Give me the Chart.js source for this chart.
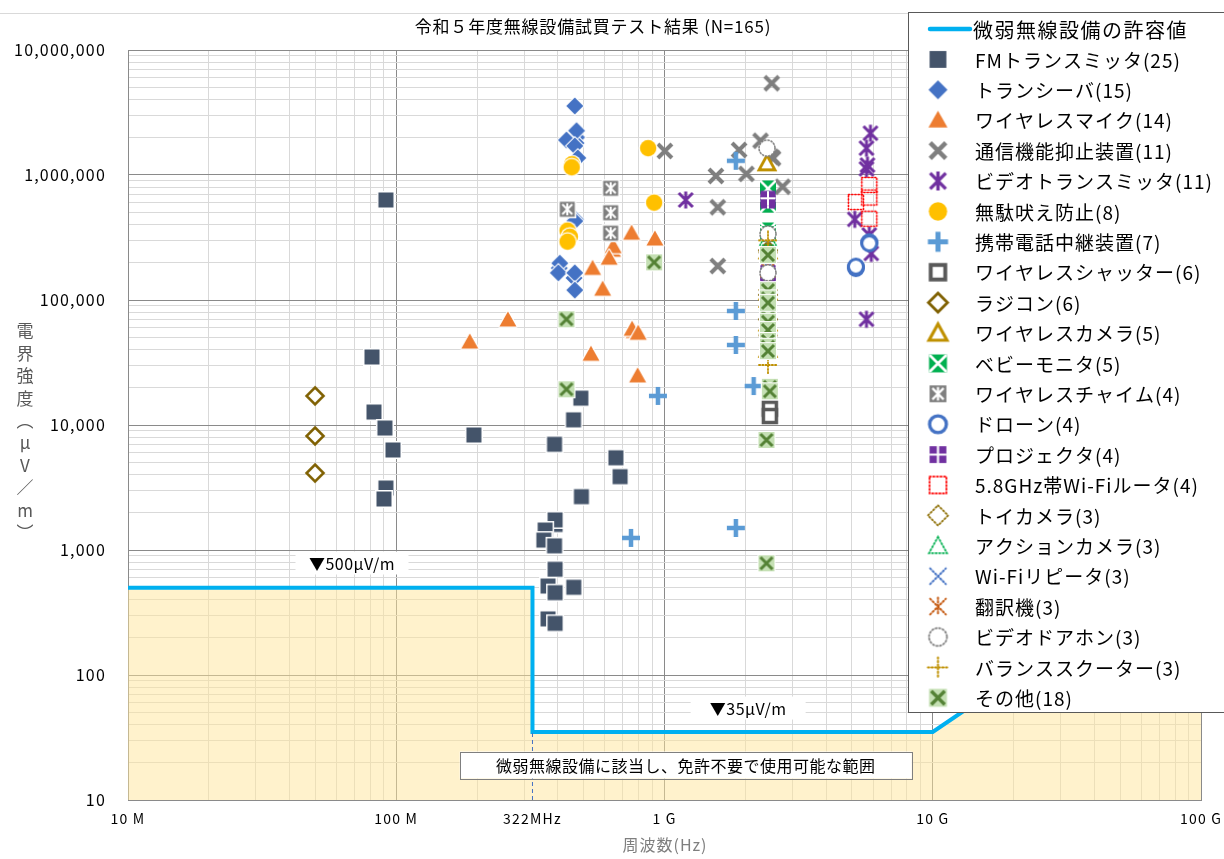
<!DOCTYPE html>
<html><head><meta charset="utf-8">
<script src="https://cdn.jsdelivr.net/npm/chart.js@4"></script>
<style>html,body{margin:0;padding:0;background:#fff}#wrap{width:1224px;height:859px;position:relative}</style>
</head><body><div id="wrap"><canvas id="c"></canvas></div>
<script>
const FONT = '"Noto Sans CJK JP", "Noto Sans", sans-serif';

// ---- data (frequency in MHz, field strength in μV/m) ----
const limitFreq = [10, 322, 322, 10000, 100000];
const limitVal  = [500, 500, 35, 35, 1000];
const guideFreq = [322, 322];
const guideVal  = [10, 35];

const xTickValues = [10, 100, 322, 1000, 10000, 100000];
const xTickLabels = ['10 M', '100 M', '322MHz', '1 G', '10 G', '100 G'];
const yTickValues = [10, 100, 1000, 10000, 100000, 1000000, 10000000];
const yTickLabels = ['10', '100', '1,000', '10,000', '100,000', '1,000,000', '10,000,000'];

const fmFreq = [91.5, 81.2, 82.6, 90.7, 97.2, 91.5, 90, 194.8, 487.7, 458, 389, 659, 683, 490, 391, 391, 359, 355, 389, 391, 368, 391, 459, 368, 391];
const fmVal  = [631000, 35000, 12700, 9460, 6310, 3130, 2560, 8320, 16400, 11000, 7010, 5470, 3860, 2670, 1600, 1740, 1445, 1200, 1080, 701, 515, 456, 503, 281, 259];
const trxFreq = [470, 468, 466, 405, 460, 463, 470, 431, 463, 475, 463, 407, 402, 463, 463];
const trxVal  = [2000000, 1800000, 440000, 180000, 150000, 3565000, 2260000, 1905000, 1710000, 1370000, 428000, 197000, 165000, 165000, 120000];
const micFreq = [640, 770, 188, 260.8, 754, 921, 644, 622, 539.5, 588, 757, 798, 532, 794];
const micVal  = [250000, 56000, 46100, 69200, 342000, 307600, 267000, 216000, 179000, 122000, 58300, 54200, 36800, 24700];
const jamFreq = [2500, 1003, 2510, 2280, 1897, 2540, 1555, 2020, 2755, 1580, 1580];
const jamVal  = [1400000, 1556000, 5420000, 1880000, 1585000, 1360000, 982000, 1020000, 806000, 552000, 187000];
const vtxFreq = [1200, 5860, 5660, 5710, 5660, 5120, 5800, 5900, 5660, 2430, 2430];
const vtxVal  = [631000, 2160000, 1640000, 1200000, 1120000, 442000, 331000, 236000, 70100, 167000, 130000];
const barkFreq = [440, 452, 869, 451, 915, 435, 444, 435];
const barkVal  = [340000, 1220000, 1640000, 1153000, 601000, 359000, 321000, 293000];
const repFreq = [1845, 1845, 1845, 2150, 945, 1845, 750];
const repVal  = [1300000, 81700, 43700, 20500, 17100, 1500, 1250];
const shutFreq = [2430, 2430, 2430, 2430, 2470, 2470];
const shutVal  = [100000, 60000, 45000, 50000, 13500, 11800];
const rcFreq = [49.8, 49.8, 49.8, 2430, 2430, 2430];
const rcVal  = [17100, 8170, 4130, 250000, 110000, 70000];
const camFreq = [2410, 2430, 2430, 2430, 2430];
const camVal  = [1240000, 245000, 115000, 65000, 40000];
const bmFreq = [2430, 2430, 2430, 2430, 2430];
const bmVal  = [700000, 360000, 780000, 580000, 337000];
const chimeFreq = [630, 630, 630, 434];
const chimeVal  = [783000, 499000, 342000, 532000];
const droneFreq = [5800, 5170, 5800, 5170];
const droneVal  = [290000, 180000, 284000, 185000];
const projFreq = [2430, 2430, 2430, 2430];
const projVal  = [620000, 140000, 651000, 160000];
const routerFreq = [5800, 5170, 5800, 5800];
const routerVal  = [832000, 608000, 660000, 447000];
const toyFreq = [2430, 2430, 2430];
const toyVal  = [240000, 120000, 52000];
const actFreq = [2430, 2430, 2430];
const actVal  = [310000, 95000, 62000];
const rptFreq = [2430, 2430, 2430];
const rptVal  = [200000, 85000, 55000];
const trnFreq = [2430, 2430, 2430];
const trnVal  = [175000, 105000, 44000];
const doorFreq = [2410, 2430, 2430];
const doorVal  = [1640000, 337000, 165000];
const scootFreq = [2430, 2430, 2430];
const scootVal  = [300000, 88000, 30200];
const othFreq = [431, 431, 915, 2430, 2430, 2430, 2430, 2430, 2430, 2430, 2430, 2430, 2430, 2470, 2470, 2400, 2400, 2430];
const othVal  = [70100, 19300, 200000, 229000, 120000, 103000, 80600, 73000, 67000, 57500, 47000, 42300, 39000, 20200, 18600, 7590, 783, 95000];

const limitName = '微弱無線設備の許容値';
const seriesNames = ['FMトランスミッタ(25)', 'トランシーバ(15)', 'ワイヤレスマイク(14)', '通信機能抑止装置(11)', 'ビデオトランスミッタ(11)', '無駄吠え防止(8)', '携帯電話中継装置(7)', 'ワイヤレスシャッター(6)', 'ラジコン(6)', 'ワイヤレスカメラ(5)', 'ベビーモニタ(5)', 'ワイヤレスチャイム(4)', 'ドローン(4)', 'プロジェクタ(4)', '5.8GHz帯Wi-Fiルータ(4)', 'トイカメラ(3)', 'アクションカメラ(3)', 'Wi-Fiリピータ(3)', '翻訳機(3)', 'ビデオドアホン(3)', 'バランススクーター(3)', 'その他(18)'];
const seriesFreq = [fmFreq, trxFreq, micFreq, jamFreq, vtxFreq, barkFreq, repFreq, shutFreq, rcFreq, camFreq, bmFreq, chimeFreq, droneFreq, projFreq, routerFreq, toyFreq, actFreq, rptFreq, trnFreq, doorFreq, scootFreq, othFreq];
const seriesVal = [fmVal, trxVal, micVal, jamVal, vtxVal, barkVal, repVal, shutVal, rcVal, camVal, bmVal, chimeVal, droneVal, projVal, routerVal, toyVal, actVal, rptVal, trnVal, doorVal, scootVal, othVal];

// ---- marker images ----
function mk(fn, s) {
  s = s || 1;
  const c = document.createElement('canvas');
  c.width = Math.round(26 * s); c.height = Math.round(26 * s);
  const g = c.getContext('2d');
  g.translate(c.width / 2, c.height / 2); g.scale(s, s);
  fn(g);
  return c;
}
function lines(g, segs, color, lw, dash) {
  g.strokeStyle = color; g.lineWidth = lw; g.setLineDash(dash || []); g.lineCap = dash ? 'round' : 'butt';
  g.beginPath();
  segs.forEach(p => { g.moveTo(p[0], p[1]); g.lineTo(p[2], p[3]); });
  g.stroke();
}
function poly(g, pts) { g.beginPath(); pts.forEach((p, i) => i ? g.lineTo(p[0], p[1]) : g.moveTo(p[0], p[1])); g.closePath(); }
const DOT = [1.2, 2];
const drawers = [
  g => { g.fillStyle = '#fff'; g.fillRect(-9, -9, 18, 18); g.fillStyle = '#44546a'; g.fillRect(-7.5, -7.5, 15, 15); },
  g => { poly(g, [[0, -10], [10, 0], [0, 10], [-10, 0]]); g.fillStyle = '#fff'; g.fill(); poly(g, [[0, -8.5], [8.5, 0], [0, 8.5], [-8.5, 0]]); g.fillStyle = '#4472c4'; g.fill(); },
  g => { poly(g, [[0, -8.5], [8.5, 6.5], [-8.5, 6.5]]); g.strokeStyle = '#fff'; g.lineWidth = 2.5; g.lineJoin = 'round'; g.stroke(); g.fillStyle = '#ed7d31'; g.fill(); },
  g => { lines(g, [[-7, -7, 7, 7], [-7, 7, 7, -7]], '#7f7f7f', 4); },
  g => { lines(g, [[-7, -7, 7, 7], [-7, 7, 7, -7], [0, -8.5, 0, 8.5]], '#7030a0', 3); },
  g => { g.fillStyle = '#fff'; g.beginPath(); g.arc(0, 0, 9.5, 0, 7); g.fill(); g.fillStyle = '#ffc000'; g.beginPath(); g.arc(0, 0, 8.2, 0, 7); g.fill(); },
  g => { lines(g, [[-9, 0, 9, 0], [0, -9, 0, 9]], '#5b9bd5', 4.5); },
  g => { g.fillStyle = '#fff'; g.fillRect(-7, -7, 14, 14); g.strokeStyle = '#595959'; g.lineWidth = 3.5; g.strokeRect(-6.5, -6.5, 13, 13); },
  g => { poly(g, [[0, -8.5], [8.5, 0], [0, 8.5], [-8.5, 0]]); g.fillStyle = '#fff'; g.fill(); g.strokeStyle = '#7f6000'; g.lineWidth = 2.5; g.stroke(); },
  g => { poly(g, [[0, -8], [8, 6.5], [-8, 6.5]]); g.fillStyle = '#fff'; g.fill(); g.strokeStyle = '#bf9000'; g.lineWidth = 2.8; g.stroke(); },
  g => { g.fillStyle = '#00b050'; g.fillRect(-8, -8, 16, 16); g.save(); g.beginPath(); g.rect(-8, -8, 16, 16); g.clip(); lines(g, [[-8, -8, 8, 8], [-8, 8, 8, -8]], '#fff', 2.5); g.restore(); },
  g => { g.fillStyle = '#fff'; g.fillRect(-9, -9, 18, 18); g.fillStyle = '#7f7f7f'; g.fillRect(-7.5, -7.5, 15, 15); lines(g, [[-5, -5, 5, 5], [-5, 5, 5, -5], [0, -6, 0, 6]], '#fff', 2); },
  g => { g.fillStyle = '#fff'; g.beginPath(); g.arc(0, 0, 7.5, 0, 7); g.fill(); g.strokeStyle = '#4472c4'; g.lineWidth = 3; g.stroke(); },
  g => { g.fillStyle = '#7030a0'; g.fillRect(-7.5, -7.5, 15, 15); lines(g, [[-7.5, 0, 7.5, 0], [0, -7.5, 0, 7.5]], '#fff', 2); },
  g => { g.strokeStyle = '#ff0000'; g.lineWidth = 1.6; g.setLineDash(DOT); g.lineCap = 'round'; g.strokeRect(-7.5, -7.5, 15, 15); },
  g => { poly(g, [[0, -9], [9, 0], [0, 9], [-9, 0]]); g.strokeStyle = '#8c6d00'; g.lineWidth = 1.6; g.setLineDash(DOT); g.lineCap = 'round'; g.stroke(); },
  g => { poly(g, [[0, -8], [8, 6.5], [-8, 6.5]]); g.strokeStyle = '#00b050'; g.lineWidth = 1.6; g.setLineDash(DOT); g.lineCap = 'round'; g.stroke(); },
  g => { lines(g, [[-7, -7, 7, 7], [-7, 7, 7, -7]], '#4472c4', 1.8, DOT); },
  g => { lines(g, [[-7, -7, 7, 7], [-7, 7, 7, -7], [0, -8, 0, 8]], '#c55a11', 1.8, DOT); },
  g => { g.fillStyle = '#fff'; g.beginPath(); g.arc(0, 0, 8, 0, 7); g.fill(); g.strokeStyle = '#808080'; g.lineWidth = 1.6; g.setLineDash(DOT); g.lineCap = 'round'; g.stroke(); },
  g => { lines(g, [[-9, 0, 9, 0], [0, -9, 0, 9]], '#bf9000', 1.8, DOT); },
  g => { g.fillStyle = '#fff'; g.fillRect(-9, -9, 18, 18); g.fillStyle = '#c5e0b4'; g.fillRect(-8, -8, 16, 16); lines(g, [[-6, -6, 6, 6], [-6, 6, 6, -6]], '#548235', 3); }
];
const markers = drawers.map(d => mk(d, 1));
const legendMarkers = drawers.map(d => mk(d, 1.12));

// ---- datasets ----
const datasets = [
  { label: limitName, data: limitFreq.map((f, i) => ({ x: f, y: limitVal[i] })), showLine: true, borderColor: '#00b0f0', borderWidth: 4, pointRadius: 0, fill: 'start', backgroundColor: 'rgba(255,229,153,0.5)', borderJoinStyle: 'miter', order: 1000 },
  { label: 'guide', data: guideFreq.map((f, i) => ({ x: f, y: guideVal[i] })), showLine: true, borderColor: '#4472c4', borderWidth: 1, borderDash: [4, 3], pointRadius: 0, fill: false, order: 999 }
];
seriesNames.forEach((n, i) => {
  datasets.push({ label: n, data: seriesFreq[i].map((f, j) => ({ x: f, y: seriesVal[i][j] })), pointStyle: markers[i], pointRadius: 9, showLine: false, order: 100 - i });
});

function majorX(v) { return Math.abs(Math.log10(v) - Math.round(Math.log10(v))) < 1e-9; }
function decadeTicks(min, max, extra) {
  const out = [];
  for (let d = min; d < max; d *= 10) for (let m = 1; m < 10; m++) out.push(d * m);
  out.push(max);
  (extra || []).forEach(e => out.push(e));
  return out.sort((a, b) => a - b).map(v => ({ value: v }));
}

const overlay = {
  id: 'overlay',
  beforeDraw(chart) { chart.ctx.letterSpacing = '1.2px'; },
  afterDraw(chart) {
    const ctx = chart.ctx, xs = chart.scales.x, ys = chart.scales.y;
    ctx.save();
    ctx.letterSpacing = '0px';
    ctx.textBaseline = 'middle';
    // outer frame line
    ctx.strokeStyle = '#d9d9d9'; ctx.lineWidth = 1;
    ctx.beginPath(); ctx.moveTo(0, 13.5); ctx.lineTo(908, 13.5); ctx.stroke();
    // title
    ctx.font = '17px ' + FONT; ctx.fillStyle = '#000'; ctx.textAlign = 'center'; ctx.letterSpacing = '0.8px';
    ctx.fillText('令和５年度無線設備試買テスト結果 (N=165)', 593, 27);
    // axis titles
    ctx.fillStyle = '#7f7f7f'; ctx.font = '16px ' + FONT; ctx.letterSpacing = '1px';
    ctx.fillText('周波数(Hz)', 665, 845);
    ctx.fillStyle = '#595959'; ctx.font = '17px ' + FONT; ctx.letterSpacing = '0px';
    const vchars = ['電', '界', '強', '度', '︵', 'μ', 'V', '／', 'm', '︶'];
    vchars.forEach((c, i) => ctx.fillText(c, 25, 331 + i * 22.4));
    // annotation boxes
    function box(txt, fx, fy, w, h, border, size) {
      const cx = xs.getPixelForValue(fx), cy = ys.getPixelForValue(fy);
      ctx.fillStyle = '#fff'; ctx.fillRect(cx - w / 2, cy - h / 2, w, h);
      if (border) { ctx.strokeStyle = '#7f7f7f'; ctx.lineWidth = 1; ctx.strokeRect(Math.round(cx - w / 2) + 0.5, Math.round(cy - h / 2) + 0.5, w, h); }
      ctx.fillStyle = '#000'; ctx.font = size + 'px ' + FONT; ctx.textAlign = 'center'; ctx.letterSpacing = '0.5px';
      ctx.fillText(txt, cx, cy + 1);
    }
    box('▼500μV/m', 68.4, 787, 113, 23, false, 16);
    box('▼35μV/m', 2050, 54.4, 115, 23, false, 16);
    box('微弱無線設備に該当し、免許不要で使用可能な範囲', 1200, 19.05, 452, 27, true, 16);
    // legend
    ctx.fillStyle = '#fff'; ctx.fillRect(908, 12, 330, 700);
    ctx.strokeStyle = '#595959'; ctx.lineWidth = 1; ctx.strokeRect(908.5, 12.5, 330, 700);
    ctx.textAlign = 'left'; ctx.fillStyle = '#000';
    const rowY = i => 29 + i * 30.4;
    ctx.strokeStyle = '#00b0f0'; ctx.lineWidth = 4.5; ctx.lineCap = 'round';
    ctx.beginPath(); ctx.moveTo(930, rowY(0)); ctx.lineTo(970, rowY(0)); ctx.stroke();
    ctx.font = '20px ' + FONT; ctx.letterSpacing = '1.5px';
    ctx.fillText(limitName, 973, rowY(0) + 1);
    ctx.font = '19px ' + FONT; ctx.letterSpacing = '1px';
    seriesNames.forEach((n, i) => {
      const m = legendMarkers[i], y = rowY(i + 1);
      ctx.drawImage(m, 938 - m.width / 2, y - m.height / 2);
      ctx.fillText(n, 975, y + 1);
    });
    ctx.restore();
  }
};

new Chart(document.getElementById('c'), {
  type: 'scatter',
  data: { datasets },
  options: {
    responsive: true, maintainAspectRatio: false, animation: false, devicePixelRatio: 1,
    layout: { padding: { top: 50, right: 23, left: 0, bottom: 0 } },
    plugins: { legend: { display: false }, tooltip: { enabled: false }, title: { display: false } },
    scales: {
      x: {
        type: 'logarithmic', min: 10, max: 100000,
        afterBuildTicks: s => { s.ticks = decadeTicks(10, 100000, [322]); },
        afterFit: s => { s.height = 59; s.paddingLeft = 0; s.paddingRight = 0; },
        ticks: { autoSkip: false, maxRotation: 0, padding: 10, color: '#000', font: { family: FONT, size: 14 },
          callback: v => { const k = xTickValues.indexOf(v); return k >= 0 ? xTickLabels[k] : ''; } },
        grid: { drawTicks: false, color: c => (c.tick && c.tick.value === 322) ? 'rgba(0,0,0,0)' : (c.tick && majorX(c.tick.value) ? '#8a8a8a' : '#d9d9d9'), lineWidth: 1 },
        border: { color: '#8a8a8a' }
      },
      y: {
        type: 'logarithmic', min: 10, max: 10000000,
        afterBuildTicks: s => { s.ticks = decadeTicks(10, 10000000); },
        afterFit: s => { s.width = 128; s.paddingTop = 0; s.paddingBottom = 0; },
        ticks: { autoSkip: false, padding: 22, color: '#000', font: { family: FONT, size: 16 },
          callback: v => { const k = yTickValues.indexOf(v); return k >= 0 ? yTickLabels[k] : ''; } },
        grid: { drawTicks: false, color: c => (c.tick && majorX(c.tick.value) ? '#8a8a8a' : '#d9d9d9'), lineWidth: 1 },
        border: { color: '#8a8a8a' }
      }
    }
  },
  plugins: [overlay]
});
</script></body></html>
